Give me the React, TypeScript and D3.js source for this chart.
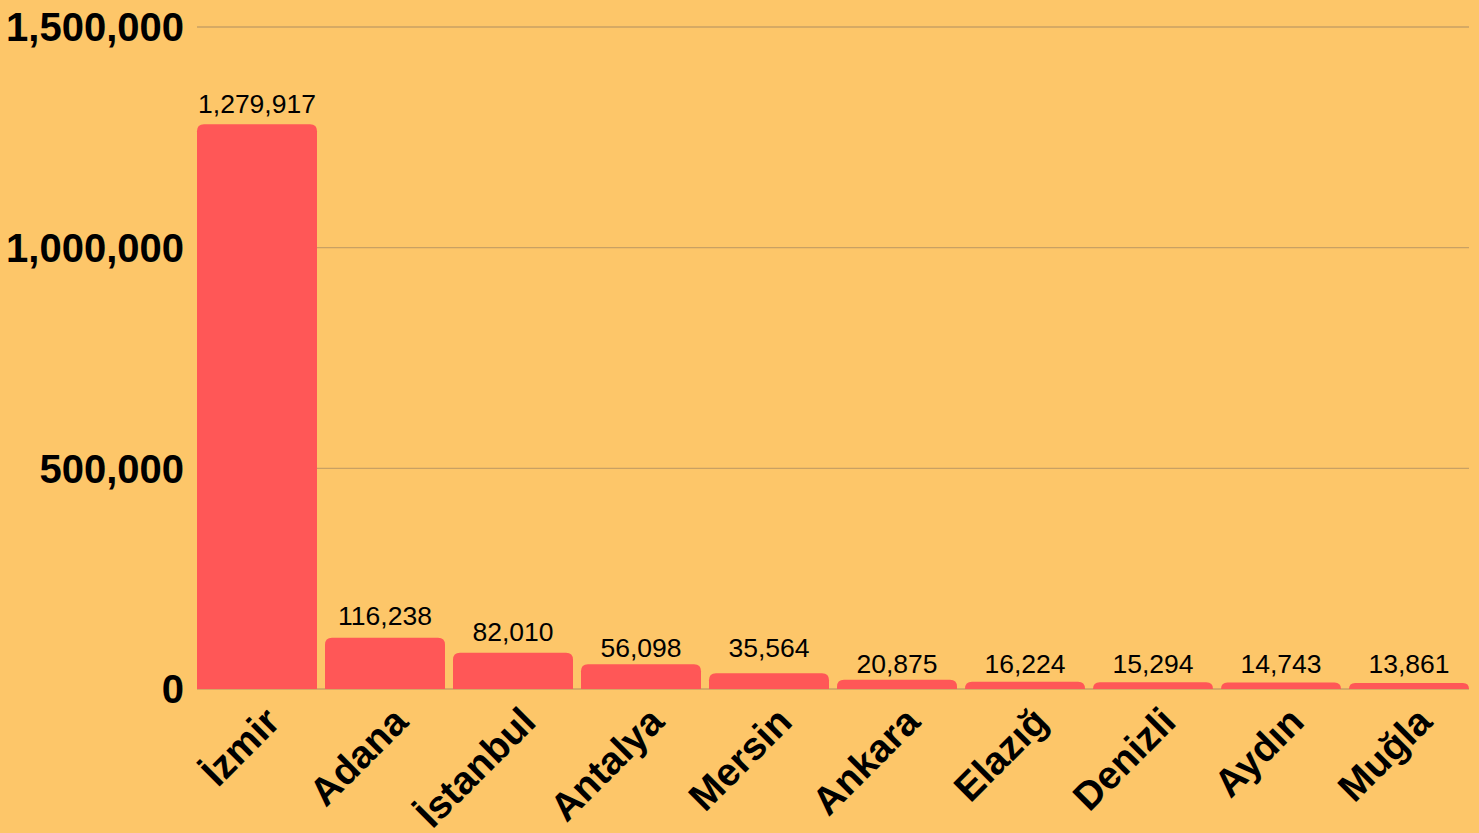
import React from "react";
import * as d3 from "d3";

const categories = ["İzmir", "Adana", "İstanbul", "Antalya", "Mersin", "Ankara", "Elazığ", "Denizli", "Aydın", "Muğla"];
const values = [1279917, 116238, 82010, 56098, 35564, 20875, 16224, 15294, 14743, 13861];
const yTicks = [0, 500000, 1000000, 1500000];

const W = 1479;
const H = 833;
const BG = "#FDC669";
const BAR = "#FF5757";
const GRID = "#C9A163";
const FONT = "'Liberation Sans', Arial, sans-serif";

export default function App() {
  const x = d3
    .scaleBand<string>()
    .domain(categories)
    .range([193, 1473])
    .paddingInner(0.0625)
    .paddingOuter(0.03125);
  const y = d3.scaleLinear().domain([0, 1500000]).range([689, 27]);
  const fmt = d3.format(",");
  const y0 = y(0);
  const gridX0 = x(categories[0])!;
  const gridX1 = x(categories[categories.length - 1])! + x.bandwidth();

  const barPath = (v: number, x0: number, w: number) => {
    const top = y(v);
    const h = y0 - top;
    const r = Math.min(7, h, w / 2);
    return `M${x0},${y0}V${top + r}Q${x0},${top} ${x0 + r},${top}H${x0 + w - r}Q${x0 + w},${top} ${x0 + w},${top + r}V${y0}Z`;
  };

  // value labels snap to 16px text rows above the baseline
  const labelY = (v: number) => {
    const h = y0 - y(v);
    const k = Math.max(0, Math.ceil((h + 6.3 - 15.7) / 16));
    return y0 - 15.7 - 16 * k;
  };

  return (
    <svg width={W} height={H} style={{ position: "absolute", left: 0, top: 0, display: "block" }}>
      <rect x={0} y={0} width={W} height={H} fill={BG} />
      {yTicks.map((t) => (
        <g key={t}>
          <line x1={gridX0} x2={gridX1} y1={y(t)} y2={y(t)} stroke={GRID} strokeWidth={1.3} />
          <text
            x={184}
            y={y(t)}
            dy="0.36em"
            textAnchor="end"
            fontFamily={FONT}
            fontWeight="bold"
            fontSize={40}
            fill="#000"
          >
            {fmt(t)}
          </text>
        </g>
      ))}
      {categories.map((c, i) => {
        const x0 = x(c)!;
        const w = x.bandwidth();
        const cx = x0 + w / 2;
        return (
          <g key={c}>
            <path d={barPath(values[i], x0, w)} fill={BAR} />
            <text
              x={cx}
              y={labelY(values[i])}
              textAnchor="middle"
              fontFamily={FONT}
              fontSize={26.5}
              fill="#000"
            >
              {fmt(values[i])}
            </text>
            <text
              transform={`translate(${cx + 25},${724}) rotate(-45)`}
              textAnchor="end"
              fontFamily={FONT}
              fontWeight="bold"
              fontSize={39}
              fill="#000"
            >
              {c}
            </text>
          </g>
        );
      })}
    </svg>
  );
}
